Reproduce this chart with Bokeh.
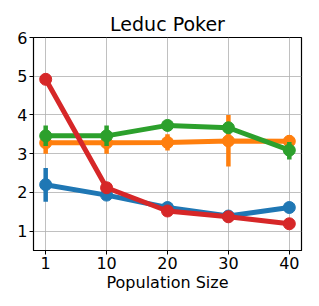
from bokeh.plotting import figure
from bokeh.models import Range1d, FixedTicker
from bokeh.embed import file_html
from bokeh.resources import INLINE

pop_sizes = ["1", "10", "20", "30", "40"]

blue_mean = [2.20, 1.93, 1.61, 1.39, 1.61]
blue_lo = [1.76, 1.87, 1.57, 1.35, 1.56]
blue_hi = [2.63, 1.99, 1.66, 1.43, 1.66]

orange_mean = [3.28, 3.28, 3.29, 3.33, 3.32]
orange_lo = [3.00, 3.00, 3.08, 2.67, 3.15]
orange_hi = [3.50, 3.50, 3.50, 4.00, 3.48]

green_mean = [3.46, 3.46, 3.73, 3.67, 3.09]
green_lo = [3.20, 3.20, 3.66, 3.58, 2.85]
green_hi = [3.73, 3.73, 3.80, 3.76, 3.30]

red_mean = [4.92, 2.12, 1.52, 1.37, 1.19]
red_lo = [4.87, 2.05, 1.46, 1.32, 1.15]
red_hi = [4.97, 2.18, 1.57, 1.41, 1.23]

y_ticks = [1, 2, 3, 4, 5, 6]

series = [
    ("#1f77b4", blue_mean, blue_lo, blue_hi),
    ("#ff7f0e", orange_mean, orange_lo, orange_hi),
    ("#2ca02c", green_mean, green_lo, green_hi),
    ("#d62728", red_mean, red_lo, red_hi),
]

xs = list(range(len(pop_sizes)))

p = figure(width=311, height=294, output_backend="svg", toolbar_location=None,
           x_range=Range1d(-0.2, len(pop_sizes) - 0.8), y_range=Range1d(0.5, 6.0),
           title="Leduc Poker")
p.min_border_left = 33
p.min_border_right = 10
p.min_border_top = 37
p.min_border_bottom = 10

p.title.text_font = "DejaVu Sans"
p.title.text_font_size = "19px"
p.title.text_font_style = "normal"
p.title.text_color = "black"
p.title.align = "center"
p.title.offset = 0
p.title.standoff = 6

p.outline_line_color = "black"
p.outline_line_width = 1.2
p.outline_line_alpha = 1

for ax in (p.xaxis, p.yaxis):
    ax.major_label_text_font = "DejaVu Sans"
    ax.major_label_text_font_size = "16px"
    ax.major_label_text_color = "black"
    ax.axis_label_text_font = "DejaVu Sans"
    ax.axis_label_text_font_size = "16px"
    ax.axis_label_text_font_style = "normal"
    ax.axis_label_text_color = "black"
    ax.minor_tick_line_color = None
    ax.major_tick_out = 4
    ax.major_tick_in = 0
    ax.major_tick_line_color = "black"
    ax.axis_line_color = "black"
    ax.major_label_standoff = 2

p.xaxis.ticker = FixedTicker(ticks=xs)
p.xaxis.major_label_overrides = {i: s for i, s in enumerate(pop_sizes)}
p.xaxis.axis_label = "Population Size"
p.xaxis.axis_label_standoff = 1
p.yaxis.ticker = FixedTicker(ticks=y_ticks)

p.grid.grid_line_color = "#b0b0b0"
p.grid.grid_line_width = 1
p.grid.grid_line_alpha = 0.8

for color, mean, lo, hi in series:
    p.segment(x0=xs, y0=lo, x1=xs, y1=hi, line_color=color, line_width=4.5)
    p.line(xs, mean, line_color=color, line_width=5)
    p.scatter(xs, mean, size=12, fill_color=color, line_color=color)

open("out.html", "w").write(file_html(p, INLINE))
